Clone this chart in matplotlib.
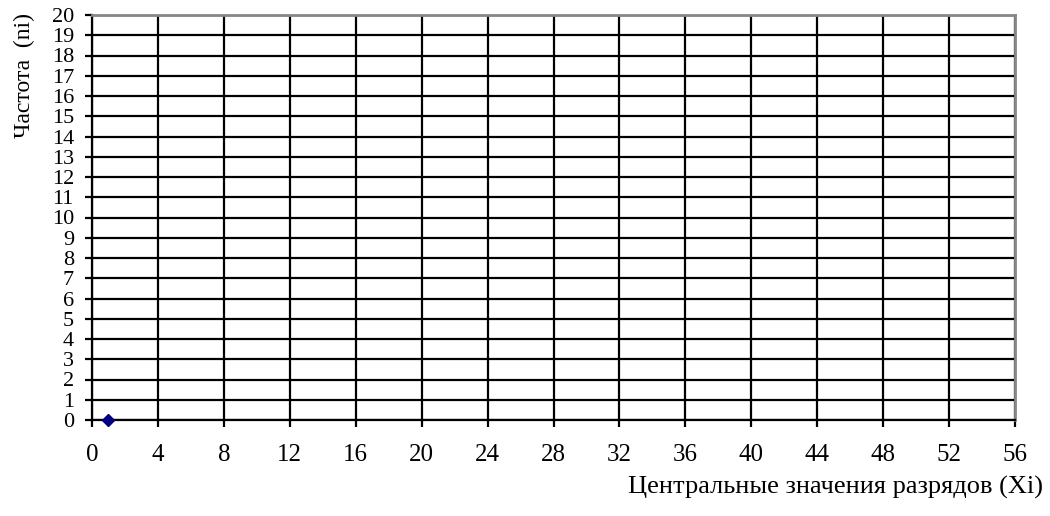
import numpy as np
import matplotlib.pyplot as plt

plt.rcParams['font.family'] = ['Liberation Serif', 'DejaVu Serif']

# data
x_values = [1]
y_values = [0]
x_ticks = list(range(0, 57, 4))
y_ticks = list(range(0, 21, 1))

fig = plt.figure(figsize=(10.5, 5.16), dpi=100)
# plot area: x 92..1015 px, y 15..420 px
ax = fig.add_axes([92 / 1050, 1 - 420 / 516, 923 / 1050, 405 / 516])

ax.set_xlim(0, 56)
ax.set_ylim(0, 20)
ax.set_xticks(x_ticks)
ax.set_yticks(y_ticks)
ax.grid(True, color='black', linewidth=1.6)
ax.set_axisbelow(True)

ax.plot(x_values, y_values, linestyle='none', marker='D', markersize=6,
        color='#000080', clip_on=False, zorder=5)

for side in ['left', 'bottom']:
    ax.spines[side].set_color('black')
    ax.spines[side].set_linewidth(1.6)
for side in ['top', 'right']:
    ax.spines[side].set_color('#888888')
    ax.spines[side].set_linewidth(2)

ax.tick_params(axis='both', direction='out', length=5, width=1.6, color='black')
ax.tick_params(axis='x', labelsize=18, pad=12)
ax.tick_params(axis='y', labelsize=16, pad=8)

fig.text(24 / 1050, 1 - 13 / 516, 'Частота  (ni)', fontsize=17, rotation=90,
         ha='center', va='top')
fig.text(1043 / 1050, 1 - 487 / 516, 'Центральные значения разрядов (Xi)',
         fontsize=19, ha='right', va='center')

fig.savefig('out.png', dpi=100)
